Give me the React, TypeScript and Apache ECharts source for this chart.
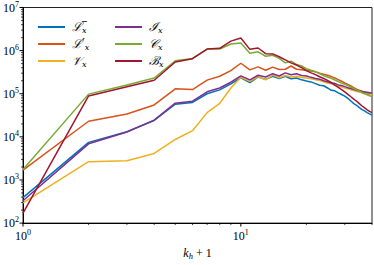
import React, { useEffect, useRef } from 'react';
import * as echarts from 'echarts';

const khPlusOne = [1, 2, 3, 4, 5, 6, 7, 8, 9, 10, 11, 12, 13, 14, 15, 16, 17, 18, 19, 20, 21, 22, 23, 24, 25, 26, 27, 28, 29, 30, 31, 32, 33, 34, 35, 36, 37, 38, 39, 40];

const Lbar = [390, 7450, 13200, 24000, 57000, 63000, 100000, 123000, 170000, 235000, 182000, 245000, 215000, 255000, 225000, 255000, 222000, 232000, 210000, 198000, 188000, 172000, 158000, 153000, 136000, 120000, 117000, 105000, 96000, 88000, 78000, 68000, 59000, 54000, 47500, 43000, 40000, 36500, 34000, 32000];
const Lprime = [1700, 23000, 34000, 55000, 130000, 125000, 207000, 254000, 344000, 510000, 357000, 420000, 350000, 415000, 365000, 370000, 440000, 370000, 360000, 345000, 335000, 322000, 300000, 282000, 268000, 250000, 232000, 212000, 195000, 178000, 165000, 152000, 138000, 128000, 120000, 114000, 108000, 103000, 99000, 96000];
const Vx = [294, 2650, 2790, 4120, 8700, 13900, 36500, 60000, 136000, 240000, 195000, 250000, 210000, 270000, 235000, 265000, 245000, 255000, 238000, 232000, 222000, 212000, 202000, 190000, 178000, 170000, 160000, 150000, 144000, 136000, 130000, 124000, 118000, 113000, 109000, 105000, 102000, 99000, 97000, 95000];
const Ix = [330, 6900, 13000, 24500, 60500, 67000, 111000, 136000, 185000, 260000, 210000, 268000, 245000, 292000, 258000, 305000, 275000, 290000, 265000, 258000, 240000, 226000, 218000, 200000, 190000, 178000, 174000, 160000, 155000, 146000, 138000, 132000, 126000, 120000, 116000, 112000, 110000, 108000, 106000, 104000];
const Cx = [1750, 98000, 160000, 232000, 580000, 660000, 1090000, 1090000, 1420000, 1500000, 870000, 940000, 740000, 780000, 660000, 520000, 570000, 480000, 440000, 380000, 350000, 325000, 295000, 262000, 245000, 228000, 208000, 192000, 176000, 166000, 155000, 142000, 131000, 123000, 115000, 107000, 100000, 95000, 90000, 86000];
const Bx = [170, 89000, 145000, 205000, 545000, 650000, 1090000, 1130000, 1660000, 1970000, 1070000, 1150000, 850000, 840000, 720000, 610000, 520000, 465000, 405000, 345000, 305000, 278000, 248000, 226000, 204000, 184000, 158000, 141000, 125000, 110000, 97000, 85000, 75000, 67000, 59000, 52000, 47000, 42500, 39000, 36500];

const seriesNames = ['Lbar', 'Lprime', 'V', 'I', 'C', 'B'];
const seriesLabels = ['{c|ℒ̅}{s|x}', '{c|ℒ′}{s|x}', '{c|𝒱}{s|x}', '{c|ℐ}{s|x}', '{c|𝒞}{s|x}', '{c|ℬ}{s|x}'];
const seriesColors = ['#0072BD', '#D95319', '#EDB120', '#7E2F8E', '#77AC30', '#A2142F'];
const seriesValues = [Lbar, Lprime, Vx, Ix, Cx, Bx];

const xMajorTicks = [1, 10];
const xMinorTicks = [2, 3, 4, 5, 6, 7, 8, 9, 20, 30, 40];
const yMajorTicks = [100, 1000, 10000, 100000, 1000000, 10000000];
const yMinorTicks = [
  200, 300, 400, 500, 600, 700, 800, 900,
  2000, 3000, 4000, 5000, 6000, 7000, 8000, 9000,
  20000, 30000, 40000, 50000, 60000, 70000, 80000, 90000,
  200000, 300000, 400000, 500000, 600000, 700000, 800000, 900000,
  2000000, 3000000, 4000000, 5000000, 6000000, 7000000, 8000000, 9000000,
];

const SERIF = '"Liberation Serif", "DejaVu Serif", serif';

const tickRich = {
  b: { fontFamily: SERIF, fontSize: 12, color: '#000', lineHeight: 15, verticalAlign: 'middle' },
  p: { fontFamily: SERIF, fontSize: 8, color: '#000', lineHeight: 9, verticalAlign: 'top' },
};

const powLabel = (v: number) => {
  const e = Math.round(Math.log10(v));
  if (Math.abs(Math.pow(10, e) - v) / v > 1e-6) return '';
  return `{b|10}{p|${e}}`;
};

export default function App() {
  const ref = useRef<HTMLDivElement>(null);
  useEffect(() => {
    document.body.style.margin = '0';
    if (!ref.current) return;
    const chart = echarts.init(ref.current, undefined, { renderer: 'svg' });
    const legendRich = {
      c: { fontFamily: '"DejaVu Serif", serif', fontStyle: 'italic', fontSize: 12, lineHeight: 14, color: '#000', verticalAlign: 'middle' },
      s: { fontFamily: '"DejaVu Serif", serif', fontStyle: 'italic', fontSize: 8, lineHeight: 7, color: '#000', verticalAlign: 'bottom' },
    };
    const fmt = (name: string) => seriesLabels[seriesNames.indexOf(name)];
    const commonLegend = {
      orient: 'vertical',
      icon: 'rect',
      itemWidth: 27,
      itemHeight: 2,
      itemGap: 4,
      formatter: fmt,
      textStyle: { rich: legendRich, padding: [0, 0, 0, 2] },
    };
    const xMin = khPlusOne[0];
    const yMin = yMajorTicks[0];
    // tick items: [x, y, length, axis(0 = x axis, 1 = y axis)]
    const tickData = [
      ...xMajorTicks.map((v) => [v, yMin, 3.5, 0]),
      ...xMinorTicks.map((v) => [v, yMin, 2, 0]),
      ...yMajorTicks.map((v) => [xMin, v, 3.5, 1]),
      ...yMinorTicks.map((v) => [xMin, v, 2, 1]),
    ];
    chart.setOption({
      animation: false,
      grid: { left: 23, right: 2, top: 5, bottom: 33, show: true, borderColor: '#222', borderWidth: 1, backgroundColor: 'transparent' },
      legend: [
        { ...commonLegend, data: seriesNames.slice(0, 3), left: 33, top: 16 },
        { ...commonLegend, data: seriesNames.slice(3, 6), left: 110, top: 16 },
      ],
      xAxis: {
        type: 'log', logBase: 10, min: 1, max: 40,
        axisLine: { show: true, lineStyle: { color: '#000', width: 1 } },
        axisTick: { show: false },
        axisLabel: { margin: 5, formatter: powLabel, rich: tickRich, showMaxLabel: false },
        splitLine: { show: false },
        name: '{k|k}{h|h}{n| + 1}',
        nameLocation: 'middle',
        nameGap: 21,
        nameTextStyle: {
          rich: {
            k: { fontFamily: SERIF, fontStyle: 'italic', fontSize: 12, lineHeight: 15, color: '#000' },
            h: { fontFamily: SERIF, fontStyle: 'italic', fontSize: 8.5, lineHeight: 7, color: '#000', verticalAlign: 'bottom' },
            n: { fontFamily: SERIF, fontSize: 12, lineHeight: 15, color: '#000' },
          },
        },
      },
      yAxis: {
        type: 'log', logBase: 10, min: 100, max: 10000000,
        axisLine: { show: true, lineStyle: { color: '#000', width: 1 } },
        axisTick: { show: false },
        axisLabel: { margin: 4, formatter: powLabel, rich: tickRich },
        splitLine: { show: false },
      },
      series: [
        ...seriesNames.map((name, i) => ({
          name,
          type: 'line',
          showSymbol: false,
          symbol: 'none',
          color: seriesColors[i],
          lineStyle: { width: 1.5, color: seriesColors[i] },
          data: khPlusOne.map((x, j) => [x, seriesValues[i][j]]),
          z: 3,
        })),
        {
          type: 'custom',
          name: 'ticks',
          clip: false,
          silent: true,
          z: 5,
          encode: { x: 0, y: 1 },
          data: tickData,
          renderItem: (params: any, api: any) => {
            const p = api.coord([api.value(0), api.value(1)]);
            const len = api.value(2);
            const axis = api.value(3);
            const lw = len > 3 ? 1 : 0.7;
            if (axis === 0) {
              return { type: 'line', shape: { x1: p[0], y1: p[1], x2: p[0], y2: p[1] + len }, style: { stroke: '#000', lineWidth: lw } };
            }
            return { type: 'line', shape: { x1: p[0], y1: p[1], x2: p[0] - len, y2: p[1] }, style: { stroke: '#000', lineWidth: lw } };
          },
        },
      ],
    });
    return () => chart.dispose();
  }, []);
  return <div ref={ref} style={{ width: 374, height: 265 }} />;
}
